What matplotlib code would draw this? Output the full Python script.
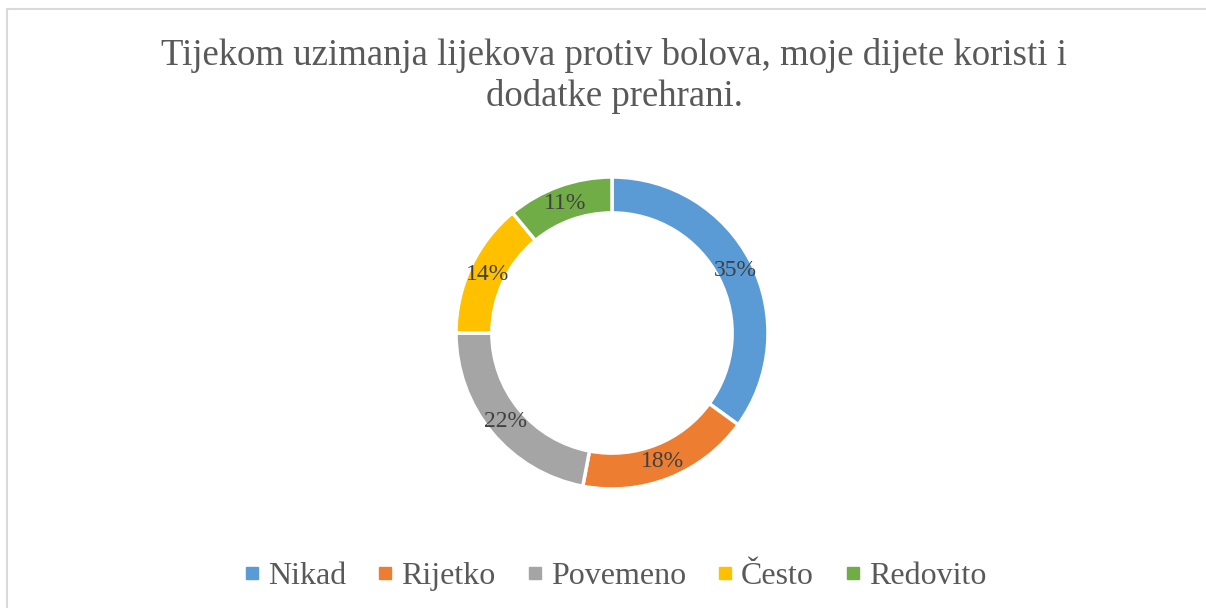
import matplotlib.pyplot as plt
from matplotlib.lines import Line2D
from matplotlib.patches import Rectangle

# data
categories = ['Nikad', 'Rijetko', 'Povemeno', 'Često', 'Redovito']
shares = [35, 18, 22, 14, 11]
colors = ['#5b9bd5', '#ed7d31', '#a5a5a5', '#ffc000', '#70ad47']
title = 'Tijekom uzimanja lijekova protiv bolova, moje dijete koristi i\ndodatke prehrani.'

plt.rcParams['font.family'] = ['Liberation Serif', 'DejaVu Serif']

W, H = 1206, 608
fig = plt.figure(figsize=(W / 100, H / 100), dpi=100)

# light grey frame (cut off at right and bottom like the source)
fig.patches.append(Rectangle((6.5 / W, -0.1), 1.2, 1.1 - 9.5 / H,
                             transform=fig.transFigure, fill=False,
                             edgecolor='#d9d9d9', linewidth=1.5))

cx, cy, r = 612, 333, 156
ax = fig.add_axes([(cx - r) / W, (H - cy - r) / H, 2 * r / W, 2 * r / H])
ring = 0.23
wedges, texts, autotexts = ax.pie(
    shares, colors=colors, startangle=90, counterclock=False,
    wedgeprops=dict(width=ring, edgecolor='white', linewidth=2.5),
    autopct='%d%%', pctdistance=1 - ring / 2,
    textprops=dict(color='#404040', fontsize=17))
ax.set_xlim(-1, 1)
ax.set_ylim(-1, 1)
ax.set_aspect('equal')
ax.axis('off')

fig.text(614 / W, 1 - 76 / H, title, ha='center', va='center',
         fontsize=26.5, color='#595959', linespacing=1.23)

handles = [Line2D([], [], marker='s', linestyle='', markersize=8,
                  markerfacecolor=c, markeredgecolor=c) for c in colors]
fig.legend(handles, categories, loc='center', bbox_to_anchor=(616 / W, 1 - 576 / H),
           ncol=5, frameon=False, fontsize=23, handletextpad=0.3,
           columnspacing=1.03, labelcolor='#595959', handlelength=0.4,
           borderpad=0.2)

fig.savefig('out.png', dpi=100)
